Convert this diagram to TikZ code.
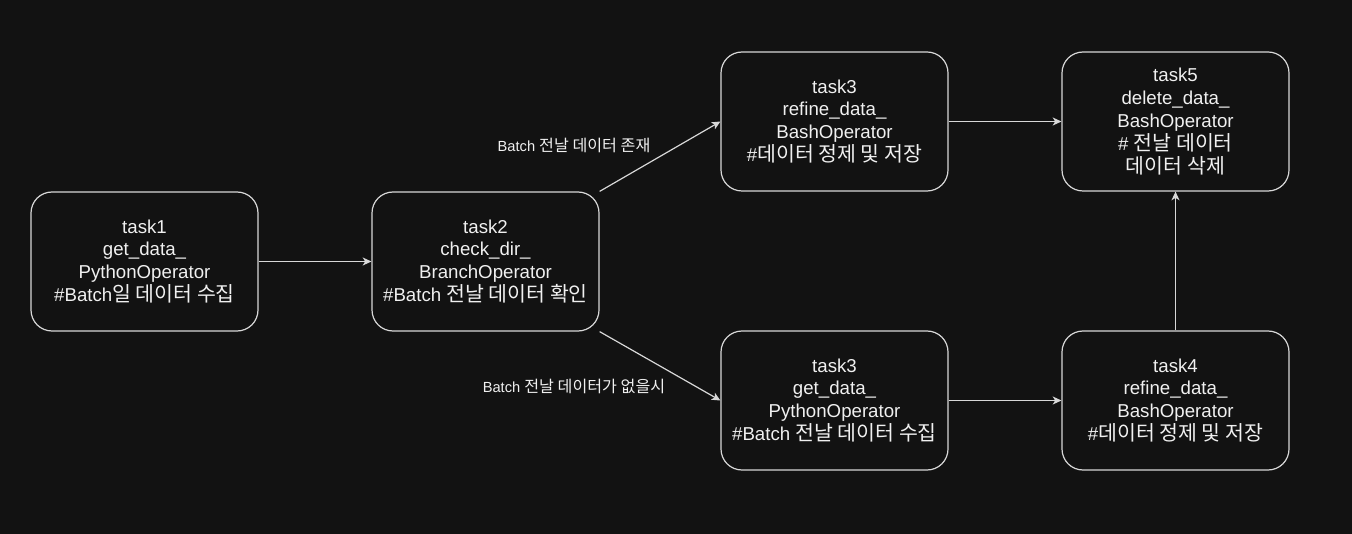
\documentclass[tikz,border=0pt]{standalone}
\usepackage{fontspec}
\setmainfont{Liberation Sans}
\newfontfamily\kr[Scale=1.1]{Noto Sans CJK KR}
\usetikzlibrary{arrows.meta}
\definecolor{bgc}{HTML}{121212}
\definecolor{linec}{HTML}{D8D8D8}
\definecolor{txtc}{HTML}{F0F0F0}
\tikzset{
  taskbox/.style={draw=linec, line width=0.9pt, fill=bgc, rounded corners=15.75pt,
    minimum width=170.25pt, minimum height=104.25pt, inner sep=0pt, align=center,
    text=txtc, font=\fontsize{14}{17.2}\selectfont,
    execute at begin node={\rule{0pt}{13pt}}},
  conn/.style={draw=linec, line width=0.9pt, -{Stealth[length=6.5pt,width=6pt,inset=1.8pt]}},
  edgelabel/.style={text=txtc, font=\fontsize{11}{13}\selectfont, inner sep=0pt}
}
\begin{document}
\begin{tikzpicture}[x=0.75pt,y=-0.75pt]
\fill[bgc] (0,0) rectangle (1352,534);
\useasboundingbox (0,0) rectangle (1352,534);

\node[taskbox] (t1) at (144.5,261.5) {task1\\get\_data\_\\PythonOperator\\\#Batch{\kr 일 데이터 수집}};
\node[taskbox] (t2) at (485.5,261.5) {task2\\check\_dir\_\\BranchOperator\\\#Batch {\kr 전날 데이터 확인}};
\node[taskbox] (t3a) at (834.5,121.5) {task3\\refine\_data\_\\BashOperator\\\#{\kr 데이터 정제 및 저장}};
\node[taskbox] (t5) at (1175.5,121.5) {task5\\delete\_data\_\\BashOperator\\\# {\kr 전날 데이터}\\{\kr 데이터 삭제}};
\node[taskbox] (t3b) at (834.5,400.5) {task3\\get\_data\_\\PythonOperator\\\#Batch {\kr 전날 데이터 수집}};
\node[taskbox] (t4) at (1175.5,400.5) {task4\\refine\_data\_\\BashOperator\\\#{\kr 데이터 정제 및 저장}};

\draw[conn] (t1.east) -- (t2.west);
\draw[conn] (t2.north east) -- (t3a.west);
\draw[conn] (t2.south east) -- (t3b.west);
\draw[conn] (t3a.east) -- (t5.west);
\draw[conn] (t3b.east) -- (t4.west);
\draw[conn] (t4.north) -- (t5.south);

\node[edgelabel] (l1) at (574,145) {Batch {\kr 전날 데이터 존재}};
\node[edgelabel] (l2) at (574,386) {Batch {\kr 전날 데이터가 없을시}};
\end{tikzpicture}
\end{document}
